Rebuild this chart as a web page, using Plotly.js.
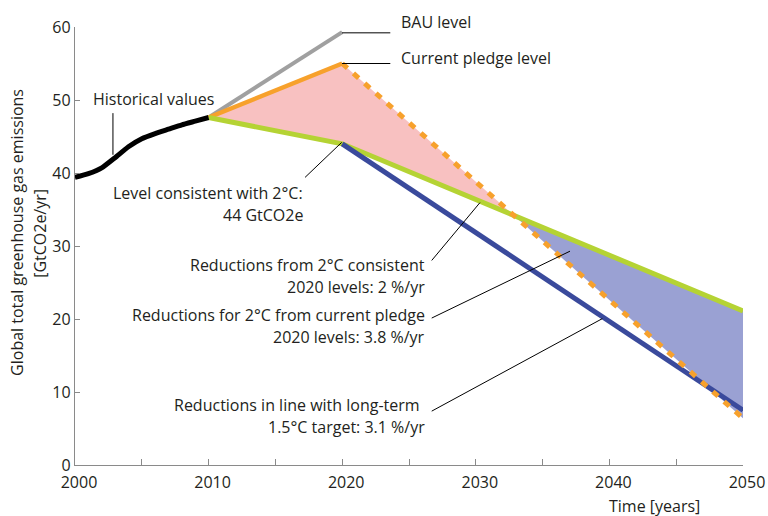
<!DOCTYPE html>
<html>
<head>
<meta charset="utf-8">
<script src="https://cdn.plot.ly/plotly-3.0.1.min.js"></script>
<style>html,body{margin:0;padding:0;background:#fff}#chart{width:768px;height:516px}</style>
</head>
<body>
<div id="chart"></div>
<script>
// ---- data ----
const histYears = [2000, 2001, 2002, 2003, 2004, 2005, 2006, 2007, 2008, 2009, 2010];
const histValues = [39.4, 39.9, 40.7, 42.1, 43.6, 44.7, 45.4, 46.0, 46.6, 47.1, 47.6];
const bauYears = [2010, 2020];
const bauValues = [47.6, 59.3];
const pledgeYears = [2010, 2020];
const pledgeValues = [47.6, 55.0];
const pledgeDeclineYears = [2020, 2050];
const pledgeDeclineValues = [55.0, 6.4];
const twoDegYears = [2010, 2020, 2050];
const twoDegValues = [47.6, 44.0, 21.1];
const onePointFiveYears = [2020, 2050];
const onePointFiveValues = [44.0, 7.5];
const xTickVals = [2000, 2005, 2010, 2015, 2020, 2025, 2030, 2035, 2040, 2045, 2050];
const xTickText = ['2000', '', '2010', '', '2020', '', '2030', '', '2040', '', '2050'];
const yTickVals = [0, 10, 20, 30, 40, 50, 60];

// crossing of the pledge decline line and the 2°C line (2020-2050 segments)
function lineAt(xs, ys, x) { return ys[0] + (ys[1] - ys[0]) * (x - xs[0]) / (xs[1] - xs[0]); }
const gX = [twoDegYears[1], twoDegYears[2]], gY = [twoDegValues[1], twoDegValues[2]];
const sP = (pledgeDeclineValues[1] - pledgeDeclineValues[0]) / (pledgeDeclineYears[1] - pledgeDeclineYears[0]);
const sG = (gY[1] - gY[0]) / (gX[1] - gX[0]);
const crossX = pledgeDeclineYears[0] + (gY[0] - pledgeDeclineValues[0]) / (sP - sG);
const crossY = lineAt(pledgeDeclineYears, pledgeDeclineValues, crossX);

const FONT = '"Open Sans", "Noto Sans", sans-serif';
const TXT = '#231f20';
const FS = 16;

const traces = [
  { // pink gap area
    x: [pledgeYears[0], pledgeYears[1], crossX, twoDegYears[1], twoDegYears[0]],
    y: [pledgeValues[0], pledgeValues[1], crossY, twoDegValues[1], twoDegValues[0]],
    mode: 'lines', fill: 'toself', fillcolor: '#f8c1c1', line: {width: 0, color: 'rgba(0,0,0,0)'},
    hoverinfo: 'skip', showlegend: false
  },
  { // blue gap area
    x: [crossX, twoDegYears[2], pledgeDeclineYears[1], crossX],
    y: [crossY, twoDegValues[2], pledgeDeclineValues[1], crossY],
    mode: 'lines', fill: 'toself', fillcolor: '#9aa1d3', line: {width: 0, color: 'rgba(0,0,0,0)'},
    hoverinfo: 'skip', showlegend: false
  },
  { x: bauYears, y: bauValues, mode: 'lines', line: {color: '#a0a0a0', width: 4}, showlegend: false },
  { x: pledgeYears, y: pledgeValues, mode: 'lines', line: {color: '#f7a12c', width: 4.5}, showlegend: false },
  { x: twoDegYears, y: twoDegValues, mode: 'lines', line: {color: '#b5d334', width: 5}, showlegend: false },
  { x: onePointFiveYears, y: onePointFiveValues, mode: 'lines', line: {color: '#3a4a9c', width: 5}, showlegend: false },
  { x: pledgeDeclineYears, y: pledgeDeclineValues, mode: 'lines', line: {color: '#f7a12c', width: 5, dash: '7px,8px'}, showlegend: false },
  { x: histYears, y: histValues, mode: 'lines', line: {color: '#000000', width: 5, shape: 'spline', smoothing: 0.5}, showlegend: false }
];

function leader(x0, y0, x1, y1) {
  return {type: 'line', xref: 'x', yref: 'y', x0: x0, y0: y0, x1: x1, y1: y1, line: {color: '#000', width: 1}};
}
function note(text, x, y, xanchor, yshift) {
  return {text: text, x: x, y: y, xref: 'x', yref: 'y', xanchor: xanchor, yanchor: 'middle',
          yshift: yshift || 0, align: xanchor, showarrow: false,
          font: {family: FONT, size: FS, color: TXT}};
}

const layout = {
  width: 768, height: 516,
  margin: {l: 75, r: 25, t: 27, b: 51},
  paper_bgcolor: '#fff', plot_bgcolor: '#fff',
  font: {family: FONT, size: FS, color: TXT},
  xaxis: {
    range: [2000, 2050], showgrid: false, zeroline: false, showline: true, linecolor: '#8a8a8a', linewidth: 1.2,
    tickmode: 'array', tickvals: xTickVals, ticktext: xTickText, ticks: 'inside', ticklen: 6, tickcolor: '#8a8a8a',
    ticklabelshift: 4, ticklabelstandoff: 3, tickfont: {family: FONT, size: FS, color: TXT}, fixedrange: true
  },
  yaxis: {
    range: [0, 60], showgrid: false, zeroline: false, showline: true, linecolor: '#8a8a8a', linewidth: 1.2,
    tickmode: 'array', tickvals: yTickVals, ticks: 'inside', ticklen: 5, tickcolor: '#8a8a8a',
    tickfont: {family: FONT, size: FS, color: TXT}, fixedrange: true
  },
  shapes: [
    leader(2019.99, 59.2, 2023.6, 59.2),
    leader(2019.99, 55.0, 2023.6, 55.0),
    leader(2002.84, 48.2, 2002.84, 42.5),
    leader(2017.22, 39.4, 2019.96, 44.19),
    leader(2026.7, 28.02, 2030.31, 35.94),
    leader(2026.7, 20.13, 2037.05, 29.29),
    leader(2026.7, 7.38, 2039.47, 20.05)
  ],
  annotations: [
    note('BAU level', 2024.27, 60, 'left', 5.3),
    note('Current pledge level', 2024.27, 55.71, 'left'),
    note('Historical values', 2001.18, 50.10, 'left'),
    note('Level consistent with 2°C:', 2017.22, 37.30, 'right'),
    note('44 GtCO2e', 2017.22, 34.25, 'right'),
    note('Reductions from 2°C consistent', 2026.33, 27.40, 'right'),
    note('2020 levels: 2 %/yr', 2026.33, 24.42, 'right'),
    note('Reductions for 2°C from current pledge', 2026.33, 20.55, 'right'),
    note('2020 levels: 3.8 %/yr', 2026.33, 17.58, 'right'),
    note('Reductions in line with long-term', 2025.95, 8.22, 'right'),
    note('1.5°C target: 3.1 %/yr', 2026.33, 5.25, 'right'),
    {text: 'Global total greenhouse gas emissions', xref: 'paper', yref: 'paper',
     x: -0.0868, y: 0.53, xanchor: 'center', yanchor: 'middle', textangle: -90, showarrow: false,
     font: {family: FONT, size: FS, color: TXT}},
    {text: '[GtCO2e/yr]', xref: 'paper', yref: 'paper',
     x: -0.0524, y: 0.53, xanchor: 'center', yanchor: 'middle', textangle: -90, showarrow: false,
     font: {family: FONT, size: FS, color: TXT}},
    {text: 'Time [years]', xref: 'paper', yref: 'paper', x: 0.868, y: -0.094, xanchor: 'center', yanchor: 'middle',
     showarrow: false, font: {family: FONT, size: FS, color: TXT}}
  ]
};

Plotly.newPlot('chart', traces, layout, {displayModeBar: false, staticPlot: true});
</script>
</body>
</html>
